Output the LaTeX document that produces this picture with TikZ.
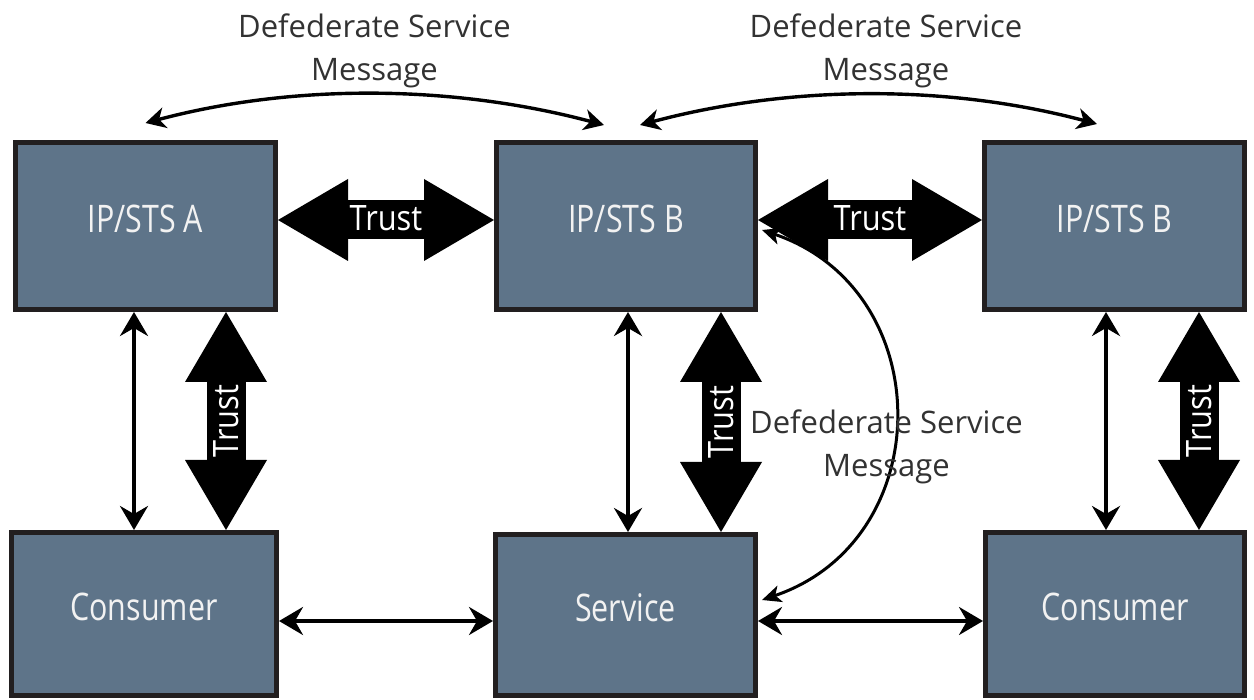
\documentclass[tikz,border=0pt]{standalone}
\usepackage{fontspec}
\setmainfont{Open Sans}
\newfontfamily\boxfont[FakeStretch=0.8]{Open Sans}
\newfontfamily\trustfont[FakeStretch=0.88]{Open Sans}
\usetikzlibrary{arrows.meta}

\definecolor{boxfill}{RGB}{94,116,137}
\definecolor{boxline}{RGB}{34,31,32}
\definecolor{msgtext}{RGB}{50,50,50}
\definecolor{boxtext}{RGB}{242,242,242}

\tikzset{
  stsbox/.style={draw=boxline, fill=boxfill, line width=5pt, inner sep=0pt,
    text=boxtext, font=\boxfont\fontsize{38pt}{40pt}\selectfont,
    text height=27pt, text depth=0pt},
  msg/.style={text=msgtext, align=center, inner sep=0pt,
    font=\fontsize{31pt}{43pt}\selectfont},
  duplex/.style={line width=3.6pt,
    {Stealth[length=24pt,width=28pt,inset=8pt]}-{Stealth[length=24pt,width=28pt,inset=8pt]}},
  fedarc/.style={line width=3.4pt,
    {Stealth[length=20pt,width=21pt,inset=6pt]}-{Stealth[length=20pt,width=21pt,inset=6pt]}},
  fedcurve/.style={line width=3pt,
    {Stealth[length=19pt,width=17pt,inset=5pt]}-{Stealth[length=19pt,width=17pt,inset=5pt]}},
  trustarrow/.style={line width=39pt,
    {Triangle[length=70pt,width=82pt,line width=0pt]}-{Triangle[length=70pt,width=82pt,line width=0pt]}},
  trustlabel/.style={text=white, inner sep=0pt,
    font=\trustfont\fontsize{35pt}{36pt}\selectfont,
    text height=25pt, text depth=0pt},
}

\begin{document}
\begin{tikzpicture}[x=1pt,y=-1pt]
\fill[white] (0,0) rectangle (1254,700);
\useasboundingbox (0,0) rectangle (1254,700);

% identity providers / security token services
\node[stsbox, minimum width=260pt, minimum height=167pt] (A)  at (145.5,226) {\raisebox{7pt}{IP/STS A}};
\node[stsbox, minimum width=259pt, minimum height=167pt] (B1) at (626,226)   {\raisebox{7pt}{IP/STS B}};
\node[stsbox, minimum width=260pt, minimum height=167pt] (B2) at (1114.5,226) {\raisebox{7pt}{IP/STS B}};

% consumers and service
\node[stsbox, minimum width=265pt, minimum height=163pt] (C1) at (144,614)   {\raisebox{7pt}{Consumer}};
\node[stsbox, minimum width=260pt, minimum height=161pt] (S)  at (625.5,615) {\raisebox{7pt}{Service}};
\node[stsbox, minimum width=259pt, minimum height=163pt] (C2) at (1115,614)  {\raisebox{7pt}{Consumer}};

% trust relationships
\draw[trustarrow] ([yshift=6pt]A.east) -- ([yshift=6pt]B1.west)
  node[trustlabel, midway, yshift=2pt] (tAB) {Trust};
\draw[trustarrow] ([yshift=6pt]B1.east) -- ([yshift=6pt]B2.west)
  node[trustlabel, midway, yshift=2pt] (tBB) {Trust};
\draw[trustarrow] ([xshift=80.5pt]A.south) -- ([xshift=82pt]C1.north)
  node[trustlabel, midway, rotate=90] (tAC) {Trust};
\draw[trustarrow] ([xshift=95pt]B1.south) -- ([xshift=95.5pt]S.north)
  node[trustlabel, midway, rotate=90] (tBS) {Trust};
\draw[trustarrow] ([xshift=84.5pt]B2.south) -- ([xshift=84pt]C2.north)
  node[trustlabel, midway, rotate=90] (tBC) {Trust};

% message exchanges
\draw[duplex] ([xshift=-11.5pt]A.south) -- ([xshift=-10pt]C1.north);
\draw[duplex] ([xshift=2pt]B1.south) -- ([xshift=2.5pt]S.north);
\draw[duplex] ([xshift=-8.5pt]B2.south) -- ([xshift=-9pt]C2.north);
\draw[duplex] ([yshift=-7pt]C1.east) -- ([yshift=-6pt]S.west);
\draw[duplex] ([yshift=-6pt]S.east) -- ([yshift=-7pt]C2.west);

% defederation messages
\draw[fedarc] ([yshift=17pt]A.north)
  .. controls +(150,-40) and +(-150,-40) .. ([xshift=-22pt,yshift=15pt]B1.north);
\draw[fedarc] ([xshift=14pt,yshift=15pt]B1.north)
  .. controls +(150,-40) and +(-150,-40) .. ([xshift=-17.5pt,yshift=16pt]B2.north);
\draw[fedcurve] ([xshift=4pt,yshift=-4pt]B1.east)
  .. controls +(177,60) and +(177,-60) .. ([xshift=4pt,yshift=15pt]S.east);

\node[msg] (mL) at (374.5,51) {Defederate Service\\Message};
\node[msg] (mR) at (886,51)   {Defederate Service\\Message};
\node[msg] (mM) at (886.5,447) {Defederate Service\\Message};
\end{tikzpicture}
\end{document}
